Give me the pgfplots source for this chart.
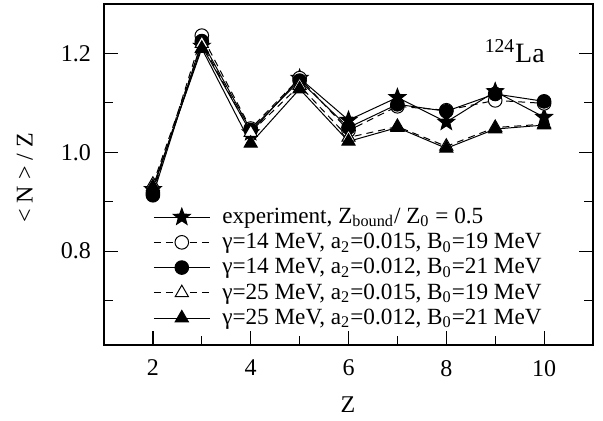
\documentclass[border=0pt]{standalone}
\usepackage{fontspec}
\setmainfont{Liberation Serif}
\usepackage{pgfplots}
\pgfplotsset{compat=1.18}

% filled five-pointed star
\pgfdeclareplotmark{fstar}{%
  \pgfpathmoveto{\pgfpointpolar{90}{\pgfplotmarksize}}%
  \pgfpathlineto{\pgfpointpolar{126}{0.42\pgfplotmarksize}}%
  \pgfpathlineto{\pgfpointpolar{162}{\pgfplotmarksize}}%
  \pgfpathlineto{\pgfpointpolar{198}{0.42\pgfplotmarksize}}%
  \pgfpathlineto{\pgfpointpolar{234}{\pgfplotmarksize}}%
  \pgfpathlineto{\pgfpointpolar{270}{0.42\pgfplotmarksize}}%
  \pgfpathlineto{\pgfpointpolar{306}{\pgfplotmarksize}}%
  \pgfpathlineto{\pgfpointpolar{342}{0.42\pgfplotmarksize}}%
  \pgfpathlineto{\pgfpointpolar{18}{\pgfplotmarksize}}%
  \pgfpathlineto{\pgfpointpolar{54}{0.42\pgfplotmarksize}}%
  \pgfpathclose
  \pgfusepathqfillstroke
}

\begin{document}
\begin{tikzpicture}
\begin{axis}[
    name=ax,
    scale only axis,
    width=244.5pt, height=170.5pt,
    xmin=1, xmax=11,
    ymin=0.61, ymax=1.3,
    xtick={2,4,6,8,10},
    minor xtick={3,5,7,9},
    ytick={0.8,1.0,1.2},
    minor ytick={0.7,0.9,1.1},
    yticklabel style={/pgf/number format/fixed, /pgf/number format/fixed zerofill, /pgf/number format/precision=1, xshift=-3pt},
    xticklabel style={yshift=-4pt},
    /pgf/number format/assume math mode=true,
    tick align=inside,
    xtick pos=lower, ytick pos=both,
    major tick length=7pt,
    minor tick length=4.5pt,
    every tick/.style={black, line width=0.6pt},
    axis line style={line width=0.8pt},
    tick label style={font=\fontsize{12}{14}\selectfont},
    label style={font=\fontsize{12}{14}\selectfont},
    xlabel={Z},
    ylabel={< N > / Z},
    xlabel style={at={(rel axis cs:0.499,-0.176)}, anchor=center},
    ylabel style={at={(rel axis cs:-0.162,0.49)}, anchor=center},
    legend style={draw=none, fill=none, at={(rel axis cs:0.1,0.415)}, anchor=north west,
        font=\fontsize{11.6}{12}\selectfont, row sep=-0.6pt, inner sep=0pt,
        nodes={inner xsep=6pt}},
    legend cell align=left,
    legend image code/.code={\draw[mark repeat=2,mark phase=2,#1] plot coordinates {(0pt,0pt)(14pt,0pt)(28pt,0pt)};},
    every axis plot/.append style={black, line width=0.5pt},
    clip=false,
]
% experiment
\addplot[solid, mark=fstar, mark size=4.4pt, mark options={fill=black}] coordinates {
    (2,0.925) (3,1.215) (4,1.040) (5,1.150) (6,1.065) (7,1.111) (8,1.061) (9,1.123) (10,1.071)
};
% gamma=14, a2=0.015, B0=19 (open circle)
\addplot[dash pattern=on 3.5pt off 2.5pt, mark=*, mark size=3.4pt, mark options={solid, fill=white}] coordinates {
    (2,0.918) (3,1.236) (4,1.048) (5,1.150) (6,1.044) (7,1.093) (8,1.085) (9,1.105) (10,1.099)
};
% gamma=14, a2=0.012, B0=21 (filled circle)
\addplot[solid, mark=*, mark size=3.4pt, mark options={fill=black}] coordinates {
    (2,0.913) (3,1.225) (4,1.045) (5,1.145) (6,1.050) (7,1.097) (8,1.083) (9,1.118) (10,1.103)
};
% gamma=25, a2=0.015, B0=19 (open triangle)
\addplot[dash pattern=on 3.5pt off 2.5pt, mark=triangle*, mark size=3.8pt, mark options={solid, fill=white}] coordinates {
    (2,0.935) (3,1.220) (4,1.040) (5,1.135) (6,1.030) (7,1.052) (8,1.012) (9,1.050) (10,1.057)
};
% gamma=25, a2=0.012, B0=21 (filled triangle)
\addplot[solid, mark=triangle*, mark size=3.8pt, mark options={fill=black}] coordinates {
    (2,0.930) (3,1.210) (4,1.018) (5,1.128) (6,1.022) (7,1.050) (8,1.008) (9,1.047) (10,1.055)
};
\legend{
    experiment{,} Z\textsubscript{bound}/ Z\textsubscript{0} = 0.5,
    γ=14 MeV{,} a\textsubscript{2}=0.015{,} B\textsubscript{0}=19 MeV,
    γ=14 MeV{,} a\textsubscript{2}=0.012{,} B\textsubscript{0}=21 MeV,
    γ=25 MeV{,} a\textsubscript{2}=0.015{,} B\textsubscript{0}=19 MeV,
    γ=25 MeV{,} a\textsubscript{2}=0.012{,} B\textsubscript{0}=21 MeV
}
\node[font=\fontsize{14}{16}\selectfont] at (axis cs:9.4,1.205) {\textsuperscript{124}La};
\end{axis}
\pgfresetboundingbox
\path ([shift={(-52pt,-37.5pt)}]ax.south west) rectangle ([shift={(5pt,2pt)}]ax.north east);
\end{tikzpicture}
\end{document}
